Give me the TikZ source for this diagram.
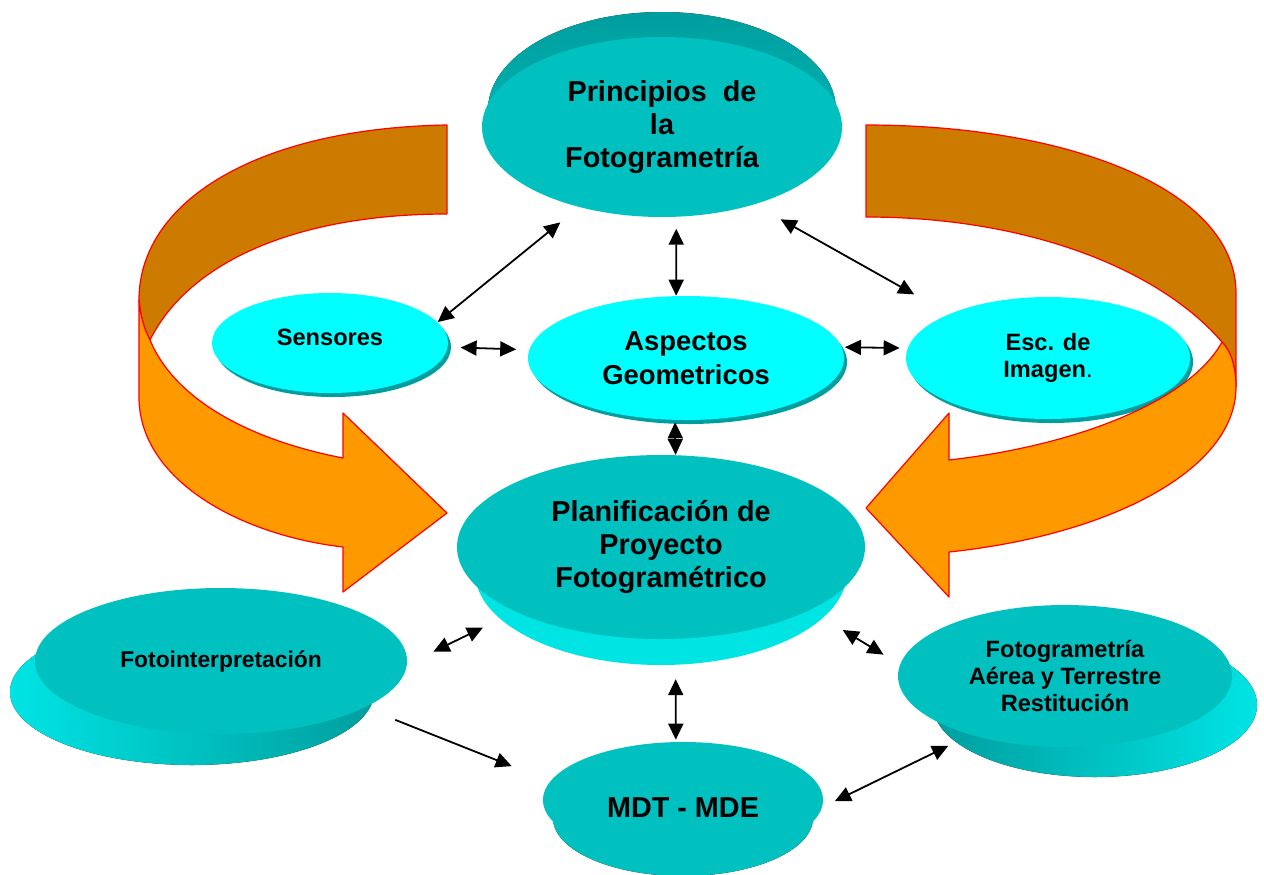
\documentclass[tikz,border=0pt]{standalone}
\usepackage{fontspec}
\setmainfont{Liberation Sans}
\usetikzlibrary{shapes.geometric,arrows.meta}

\definecolor{tealface}{RGB}{0,192,192}
\definecolor{tealdark}{RGB}{0,158,158}
\definecolor{teallight}{RGB}{0,228,228}
\definecolor{cyanface}{RGB}{0,255,255}
\definecolor{bandbrown}{RGB}{204,122,0}
\definecolor{bandorange}{RGB}{255,153,0}

\begin{document}
\begin{tikzpicture}[x=0.5pt,y=-0.5pt,
    >={Triangle[length=8pt,width=7.5pt]},
    disc/.style={ellipse,fill=tealface,inner sep=0pt,align=center},
    bubble/.style={ellipse,fill=cyanface,inner sep=0pt,align=center},
    link/.style={<->,line width=0.9pt},
    band/.style={draw=red,line width=0.6pt,line join=round},
    big/.style={font=\bfseries\fontsize{14.4}{16.5}\selectfont},
    small/.style={font=\bfseries\fontsize{11.8}{13.7}\selectfont}]
  \useasboundingbox (0,0) rectangle (1264,874);

  % light bubbles
  \fill[tealdark] (333,347) ellipse [x radius=118,y radius=50];
  \node[bubble,small,minimum width=118pt,minimum height=50pt] (sens) at (330,343) {\raisebox{3pt}[\height][\depth]{Sensores}};
  \fill[tealdark] (689,362) ellipse [x radius=158,y radius=62];
  \node[bubble,big,font=\bfseries\fontsize{13.7}{17}\selectfont,minimum width=158pt,minimum height=62pt] (asp) at (686,358) {Aspectos\\Geometricos};
  \fill[tealdark] (1051,362) ellipse [x radius=142,y radius=61];
  \node[bubble,small,minimum width=142pt,minimum height=61pt] (esc) at (1048,358) {Esc. de\\Imagen{\mdseries.}};

  % curved arrows
  \path[band,fill=bandbrown] (447,125) .. controls (260,128) and (139,200) .. (139,300)
    .. controls (141,320) and (145,330) .. (150,340)
    .. controls (190,260) and (300,214) .. (447,214) -- cycle;
  \path[band,fill=bandorange] (139,300) -- (139,397) .. controls (139,480) and (240,535) .. (343,547)
    -- (343,592) -- (447,513) -- (343,413) -- (343,458)
    .. controls (250,440) and (175,400) .. (150,340)
    .. controls (145,330) and (141,320) .. (139,300) -- cycle;
  \path[band,fill=bandbrown] (866,125) .. controls (1070,125) and (1236,190) .. (1236,293) -- (1236,387)
    .. controls (1236,365) and (1230,350) .. (1222,342)
    .. controls (1160,270) and (1030,217) .. (866,217) -- cycle;
  \path[band,fill=bandorange] (1222,342) .. controls (1230,350) and (1236,365) .. (1236,387)
    .. controls (1236,470) and (1110,535) .. (949,552) -- (949,597) -- (866,508) -- (949,413) -- (949,460)
    .. controls (1080,445) and (1190,400) .. (1222,342) -- cycle;

  % discs
  \fill[top color=tealdark,bottom color=tealface] (662,110) ellipse [x radius=174,y radius=98];
  \node[disc,big,minimum width=180pt,minimum height=90pt] (princ) at (662,127) {Principios~ de\\la\\Fotogrametría};
  \fill[teallight] (661,572) ellipse [x radius=186,y radius=93];
  \node[disc,big,minimum width=204pt,minimum height=92pt] (plan) at (661,547) {Planificación de\\Proyecto\\Fotogramétrico};
  \fill[left color=teallight,right color=tealdark] (192,692) ellipse [x radius=182,y radius=73];
  \node[disc,font=\bfseries\fontsize{11.4}{13.7}\selectfont,minimum width=186pt,minimum height=73pt] (foto) at (221,661) {Fotointerpretación};
  \fill[left color=tealdark,right color=teallight] (1095,705) ellipse [x radius=162,y radius=72];
  \node[disc,small,minimum width=167pt,minimum height=71pt] (aer) at (1065,676) {Fotogrametría\\Aérea y Terrestre\\Restitución};
  \fill[left color=tealface,middle color=tealdark,right color=tealface] (683,818) ellipse [x radius=130,y radius=58];
  \node[disc,big,minimum width=140pt,minimum height=58pt] (mdt) at (683,800) {\raisebox{-4pt}[\height][\depth]{MDT - MDE}};

  % links
  \draw[link,shorten >=12pt] (sens.11) -- (princ.224);
  \draw[link,shorten <=5.8pt] (princ.279) -- (asp.99);
  \draw[link,shorten <=15pt,shorten >=19.9pt] (princ.320) -- (esc.156);
  \draw[link,shorten <=6.3pt,shorten >=6.4pt] (sens.358) -- (asp.177);
  \draw[link,shorten <=1.5pt,shorten >=3.9pt] (asp.4) -- (esc.176);
  \draw[link,shorten <=1pt] (asp.260) -- (plan.81);
  \draw[link,shorten <=18pt,shorten >=14.6pt] (plan.204) -- (foto.359);
  \draw[link,shorten <=19.1pt,shorten >=9.5pt] (plan.337) -- (aer.176);
  \draw[link,shorten <=20pt,shorten >=1pt] (plan.279) -- (mdt.97);
  \draw[->,line width=0.9pt,shorten <=16.4pt,shorten >=20.6pt] (foto.342) -- (mdt.172);
  \draw[link,shorten <=7pt,shorten >=12.5pt] (mdt.357) -- (aer.212);
\end{tikzpicture}
\end{document}
